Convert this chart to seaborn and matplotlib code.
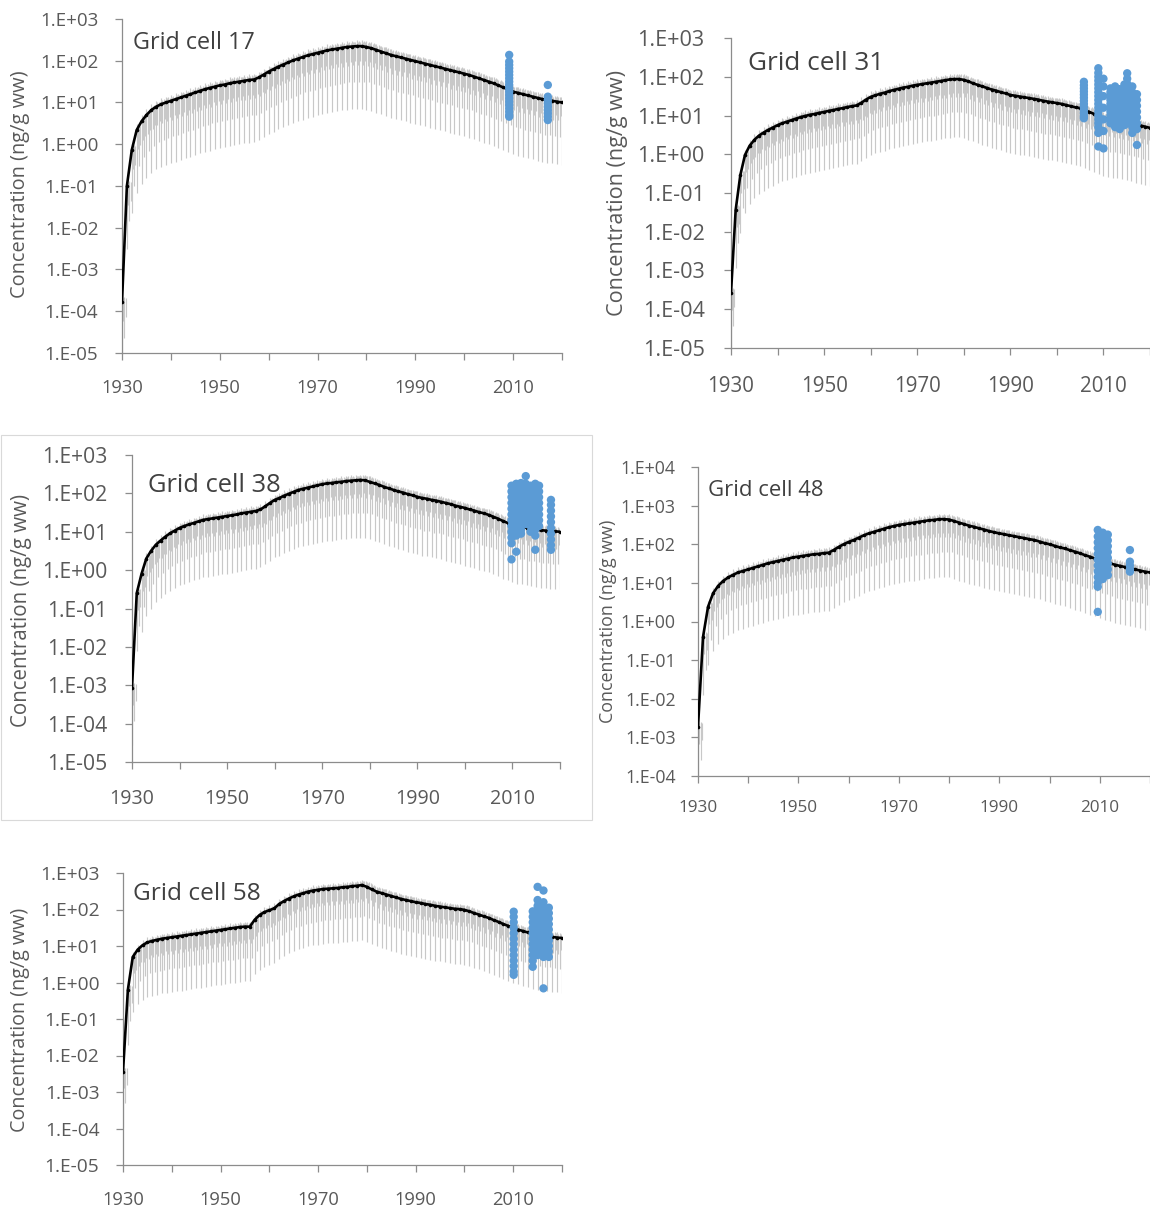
import numpy as np
import pandas as pd
import matplotlib
matplotlib.use("Agg")
import matplotlib.pyplot as plt
import seaborn as sns
from matplotlib.patches import Rectangle

# ---------------- data (log10 of concentration, ng/g ww) ----------------
YEARS = list(range(1930, 2021))

MED_17 = [-3.78, -1.00, -0.14, 0.34, 0.55, 0.70, 0.82, 0.90, 0.96, 1.00,
          1.04, 1.08, 1.12, 1.16, 1.20, 1.24, 1.28, 1.32, 1.35, 1.38,
          1.41, 1.43, 1.46, 1.48, 1.50, 1.52, 1.54, 1.55, 1.60, 1.67,
          1.74, 1.80, 1.86, 1.91, 1.96, 2.01, 2.05, 2.09, 2.13, 2.16,
          2.19, 2.22, 2.25, 2.27, 2.29, 2.31, 2.33, 2.34, 2.35, 2.35,
          2.33, 2.30, 2.26, 2.22, 2.18, 2.14, 2.11, 2.08, 2.05, 2.02,
          1.99, 1.96, 1.93, 1.90, 1.87, 1.84, 1.81, 1.78, 1.75, 1.72,
          1.69, 1.66, 1.62, 1.58, 1.54, 1.50, 1.46, 1.41, 1.36, 1.31,
          1.26, 1.23, 1.20, 1.17, 1.14, 1.11, 1.08, 1.06, 1.04, 1.02, 1.00]

MED_31 = [-3.58, -1.44, -0.54, -0.02, 0.22, 0.37, 0.48, 0.56, 0.63, 0.69,
          0.75, 0.80, 0.84, 0.88, 0.92, 0.96, 0.99, 1.02, 1.04, 1.07,
          1.09, 1.12, 1.14, 1.17, 1.19, 1.22, 1.24, 1.26, 1.33, 1.41,
          1.48, 1.52, 1.56, 1.59, 1.63, 1.66, 1.69, 1.72, 1.74, 1.77,
          1.79, 1.81, 1.83, 1.85, 1.87, 1.89, 1.91, 1.93, 1.94, 1.94,
          1.92, 1.88, 1.83, 1.79, 1.75, 1.71, 1.67, 1.64, 1.60, 1.57,
          1.53, 1.51, 1.49, 1.47, 1.45, 1.43, 1.41, 1.38, 1.36, 1.34,
          1.32, 1.30, 1.27, 1.24, 1.21, 1.19, 1.14, 1.09, 1.04, 0.99,
          0.94, 0.92, 0.90, 0.88, 0.85, 0.83, 0.80, 0.77, 0.74, 0.71, 0.68]

MED_38 = [-3.07, -0.60, -0.10, 0.30, 0.50, 0.66, 0.77, 0.87, 0.96, 1.03,
          1.10, 1.15, 1.19, 1.23, 1.27, 1.31, 1.33, 1.35, 1.37, 1.39,
          1.41, 1.43, 1.45, 1.48, 1.50, 1.52, 1.54, 1.58, 1.66, 1.75,
          1.83, 1.88, 1.94, 1.99, 2.04, 2.09, 2.12, 2.15, 2.18, 2.21,
          2.24, 2.26, 2.27, 2.29, 2.30, 2.32, 2.33, 2.34, 2.35, 2.34,
          2.30, 2.26, 2.22, 2.17, 2.13, 2.09, 2.05, 2.02, 1.98, 1.95,
          1.91, 1.88, 1.86, 1.83, 1.81, 1.78, 1.75, 1.72, 1.68, 1.65,
          1.62, 1.58, 1.55, 1.51, 1.48, 1.44, 1.39, 1.34, 1.28, 1.23,
          1.18, 1.15, 1.13, 1.10, 1.08, 1.05, 1.04, 1.03, 1.02, 1.01, 1.00]

MED_48 = [-2.73, -0.40, 0.38, 0.73, 0.92, 1.05, 1.14, 1.21, 1.27, 1.31,
          1.35, 1.39, 1.43, 1.47, 1.51, 1.54, 1.57, 1.60, 1.63, 1.66,
          1.68, 1.70, 1.72, 1.74, 1.75, 1.77, 1.78, 1.85, 1.93, 2.00,
          2.06, 2.11, 2.17, 2.23, 2.28, 2.32, 2.36, 2.40, 2.44, 2.47,
          2.50, 2.52, 2.54, 2.56, 2.58, 2.60, 2.62, 2.63, 2.65, 2.65,
          2.64, 2.60, 2.56, 2.52, 2.48, 2.45, 2.41, 2.38, 2.34, 2.31,
          2.28, 2.26, 2.23, 2.21, 2.18, 2.16, 2.13, 2.11, 2.07, 2.03,
          2.00, 1.96, 1.92, 1.89, 1.85, 1.81, 1.77, 1.72, 1.68, 1.63,
          1.59, 1.55, 1.51, 1.47, 1.44, 1.41, 1.38, 1.35, 1.32, 1.29, 1.27]

MED_58 = [-2.45, -0.20, 0.70, 0.90, 1.02, 1.10, 1.14, 1.17, 1.20, 1.22,
          1.24, 1.26, 1.28, 1.30, 1.32, 1.34, 1.36, 1.38, 1.40, 1.42,
          1.44, 1.46, 1.48, 1.50, 1.52, 1.53, 1.53, 1.72, 1.85, 1.93,
          1.98, 2.03, 2.15, 2.23, 2.30, 2.36, 2.41, 2.45, 2.49, 2.52,
          2.54, 2.56, 2.57, 2.58, 2.59, 2.61, 2.62, 2.64, 2.65, 2.67,
          2.62, 2.55, 2.49, 2.45, 2.41, 2.37, 2.33, 2.29, 2.26, 2.23,
          2.20, 2.18, 2.15, 2.13, 2.10, 2.08, 2.06, 2.04, 2.02, 2.01,
          1.99, 1.95, 1.90, 1.86, 1.81, 1.77, 1.71, 1.66, 1.60, 1.55,
          1.49, 1.45, 1.41, 1.37, 1.33, 1.30, 1.28, 1.27, 1.25, 1.23, 1.22]

# model range: decades above the line and below it, for bars within each year
ERR_UP = [0.14, 0.10, 0.12, 0.10]
ERR_OFFSETS = [0.0, 0.25, 0.5, 0.75]
ERR_DEPTHS = [1.5, 0.45, 0.85, 0.35]

# observations: (sampling year, log10 concentrations)
OBS_17 = [(2009.2, [2.14, 1.98, 1.90, 1.82, 1.74, 1.66, 1.58, 1.50, 1.42, 1.34,
                    1.26, 1.18, 1.10, 1.02, 0.94, 0.86, 0.78, 0.70, 0.66]),
          (2017.1, [1.42, 1.14, 1.06, 0.98, 0.90, 0.82, 0.74, 0.66, 0.58])]

OBS_31 = [(2005.8, [1.87, 1.78, 1.70, 1.62, 1.54, 1.46, 1.38, 1.30, 1.22, 1.14, 1.06, 0.98, 0.93]),
          (2008.9, [2.22, 2.10, 2.00, 1.90, 1.80, 1.70, 1.60, 1.50, 1.40, 1.30, 1.20,
                    1.10, 1.00, 0.90, 0.80, 0.70, 0.55, 0.20]),
          (2010.0, [1.95, 1.75, 1.50, 1.20, 0.90, 0.60, 0.15]),
          (2011.5, [1.70, 1.60, 1.50, 1.40, 1.30, 1.20, 1.10, 1.00, 0.90, 0.80]),
          (2012.5, [1.75, 1.60, 1.45, 1.30, 1.15, 1.00, 0.85, 0.70]),
          (2013.5, [1.68, 1.55, 1.42, 1.30, 1.18, 1.05, 0.92, 0.80, 0.65]),
          (2014.5, [1.80, 1.65, 1.50, 1.35, 1.20, 1.05, 0.90, 0.75]),
          (2015.1, [2.09, 1.95, 1.82, 1.70, 1.55, 1.40, 1.25, 1.10, 0.95, 0.80]),
          (2016.2, [1.75, 1.60, 1.45, 1.30, 1.15, 1.00, 0.85, 0.70, 0.55]),
          (2017.2, [1.55, 1.40, 1.25, 1.10, 0.95, 0.80, 0.65, 0.24])]

OBS_38 = [(2009.8, [2.20, 2.05, 1.90, 1.75, 1.60, 1.45, 1.30, 1.15, 1.00, 0.85, 0.70, 0.28]),
          (2010.8, [2.25, 2.10, 1.95, 1.80, 1.65, 1.50, 1.35, 1.20, 1.05, 0.90, 0.48]),
          (2011.8, [2.27, 2.10, 1.95, 1.80, 1.65, 1.50, 1.35, 1.20, 1.05, 0.95]),
          (2012.8, [2.45, 2.25, 2.10, 1.95, 1.80, 1.65, 1.50, 1.35, 1.20]),
          (2013.8, [2.20, 2.05, 1.90, 1.75, 1.60, 1.45, 1.30, 1.15, 1.00]),
          (2014.8, [2.25, 2.10, 1.95, 1.80, 1.65, 1.50, 1.35, 1.20, 1.05, 0.90, 0.53]),
          (2015.6, [2.20, 2.05, 1.90, 1.75, 1.60, 1.45, 1.30, 1.15]),
          (2018.1, [1.83, 1.70, 1.55, 1.40, 1.25, 1.10, 0.95, 0.80, 0.65, 0.53])]

OBS_48 = [(2009.6, [2.37, 2.20, 2.05, 1.90, 1.75, 1.60, 1.45, 1.30, 1.15, 1.00, 0.90, 0.25]),
          (2010.6, [2.30, 2.15, 2.00, 1.85, 1.70, 1.55, 1.40, 1.25, 1.10]),
          (2011.6, [2.25, 2.10, 1.95, 1.80, 1.65, 1.50, 1.35, 1.20]),
          (2016.0, [1.85, 1.55, 1.45, 1.35, 1.29])]

OBS_58 = [(2010.1, [1.94, 1.80, 1.65, 1.50, 1.35, 1.20, 1.05, 0.90, 0.75, 0.60, 0.45, 0.30, 0.21]),
          (2014.0, [1.95, 1.80, 1.65, 1.50, 1.35, 1.20, 1.05, 0.90, 0.75, 0.60, 0.43]),
          (2015.0, [2.62, 2.26, 2.10, 1.95, 1.80, 1.65, 1.50, 1.35, 1.20, 1.05, 0.90, 0.75]),
          (2016.2, [2.52, 2.20, 2.05, 1.90, 1.75, 1.60, 1.45, 1.30, 1.15, 1.00, 0.85, 0.70, -0.16]),
          (2017.3, [2.05, 1.90, 1.75, 1.60, 1.45, 1.30, 1.15, 1.00, 0.85, 0.70])]

TITLES = ["Grid cell 17", "Grid cell 31", "Grid cell 38", "Grid cell 48", "Grid cell 58"]
YLABEL = "Concentration (ng/g ww)"
X_TICKS = list(range(1930, 2021, 10))
X_TICK_LABELS = ["1930", "", "1950", "", "1970", "", "1990", "", "2010", ""]

# ---------------- style / layout ----------------
W, H = 1150, 1211
sns.set_style("white")
plt.rcParams["font.family"] = ["Open Sans", "DejaVu Sans"]

SPINE = "#8C8C8C"
TICK_TXT = "#595959"
TITLE_TXT = "#404040"
BAR_C = "#C8C8C8"
DOT_C = "#5B9BD5"

# rect = (left, top, right, bottom) in px; ylim exps; sizes
PANELS = [
    dict(med=MED_17, obs=OBS_17, title=TITLES[0], rect=(122, 19, 562, 353), yexp=(-5, 3),
         tick_fs=13.5, xtick_fs=13.2, title_fs=16.8, ylab_fs=14.4, ypad=12, xpad=13.5,
         title_xy=(133, 43), ylab_xy=(20, 184)),
    dict(med=MED_31, obs=OBS_31, title=TITLES[1], rect=(731, 38, 1150, 348), yexp=(-5, 3),
         tick_fs=15.6, xtick_fs=14.8, title_fs=18.8, ylab_fs=15.6, ypad=14, xpad=15.5,
         title_xy=(748, 64), ylab_xy=(618, 193)),
    dict(med=MED_38, obs=OBS_38, title=TITLES[2], rect=(132, 455, 560, 762), yexp=(-5, 3),
         tick_fs=15.2, xtick_fs=14.1, title_fs=18.4, ylab_fs=14.8, ypad=13, xpad=14.5,
         title_xy=(148, 486), ylab_xy=(22, 610)),
    dict(med=MED_48, obs=OBS_48, title=TITLES[3], rect=(698, 467, 1150, 776), yexp=(-4, 4),
         tick_fs=12.8, xtick_fs=12.3, title_fs=15.9, ylab_fs=12.9, ypad=11, xpad=12.5,
         title_xy=(708, 491), ylab_xy=(608, 621)),
    dict(med=MED_58, obs=OBS_58, title=TITLES[4], rect=(123, 873, 562, 1165), yexp=(-5, 3),
         tick_fs=13.8, xtick_fs=13.2, title_fs=17.6, ylab_fs=14.2, ypad=12, xpad=13.5,
         title_xy=(133, 894), ylab_xy=(20, 1020)),
]

fig = plt.figure(figsize=(W / 100, H / 100), dpi=100)

# light frame around the third panel
fig.patches.append(Rectangle((1 / W, 1 - 820 / H), 591 / W, 385 / H, transform=fig.transFigure,
                             fill=False, edgecolor="#D9D9D9", linewidth=0.8))

years = np.array(YEARS, dtype=float)
for p in PANELS:
    l, t, r, b = p["rect"]
    ax = fig.add_axes([l / W, 1 - b / H, (r - l) / W, (b - t) / H])
    med = np.array(p["med"])

    # model range bars
    for off, depth, up in zip(ERR_OFFSETS, ERR_DEPTHS, ERR_UP):
        ax.vlines(years + off, 10 ** (med - depth), 10 ** (med + up),
                  color=BAR_C, linewidth=0.85, zorder=1)

    df = pd.DataFrame({"year": years, "conc": 10 ** med})
    sns.lineplot(data=df, x="year", y="conc", ax=ax, color="black", linewidth=1.9,
                 marker="o", markersize=2.6, markeredgewidth=0, zorder=3)

    ox, oy = [], []
    for yr, vals in p["obs"]:
        ox += [yr] * len(vals)
        oy += [10 ** v for v in vals]
    dobs = pd.DataFrame({"year": ox, "conc": oy})
    sns.scatterplot(data=dobs, x="year", y="conc", ax=ax, color=DOT_C, s=36,
                    linewidth=0, edgecolor="none", zorder=4)

    ax.set_yscale("log")
    lo, hi = p["yexp"]
    ax.set_ylim(10.0 ** lo, 10.0 ** hi)
    ax.set_xlim(1930, 2020)
    exps = list(range(lo, hi + 1))
    ax.set_yticks([10.0 ** e for e in exps])
    ax.set_yticklabels([f"1.E{e:+03d}" for e in exps])
    ax.yaxis.set_minor_locator(matplotlib.ticker.NullLocator())
    ax.set_xticks(X_TICKS)
    ax.set_xticklabels(X_TICK_LABELS)
    ax.set_xlabel("")
    ax.set_ylabel("")

    for s in ["top", "right"]:
        ax.spines[s].set_visible(False)
    for s in ["left", "bottom"]:
        ax.spines[s].set_color(SPINE)
        ax.spines[s].set_linewidth(0.9)
    ax.tick_params(axis="y", direction="out", length=5, width=0.9, color=SPINE,
                   labelcolor=TICK_TXT, labelsize=p["tick_fs"], pad=p["ypad"], left=True)
    ax.tick_params(axis="x", direction="out", length=5, width=0.9, color=SPINE,
                   labelcolor=TICK_TXT, labelsize=p["xtick_fs"], pad=p["xpad"], bottom=True)
    ax.patch.set_alpha(0)

    tx, ty = p["title_xy"]
    fig.text(tx / W, 1 - ty / H, p["title"], fontsize=p["title_fs"], color=TITLE_TXT,
             ha="left", va="center")
    lx, ly = p["ylab_xy"]
    fig.text(lx / W, 1 - ly / H, YLABEL, fontsize=p["ylab_fs"], color=TICK_TXT,
             rotation=90, ha="center", va="center")

fig.savefig("out.png", dpi=100)
